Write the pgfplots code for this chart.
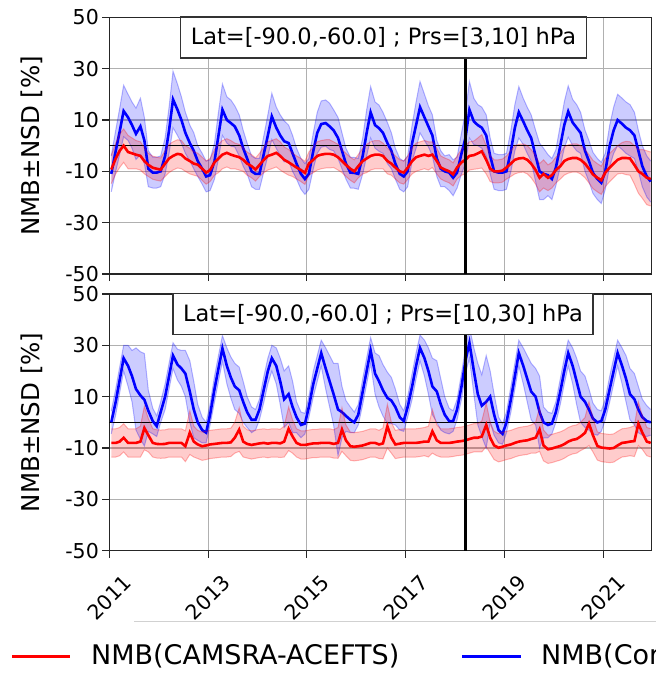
\documentclass[border=0pt]{standalone}
\usepackage{pgfplots}
\pgfplotsset{compat=1.18}
\usepgfplotslibrary{fillbetween}
\usepackage{pgfplotstable}
\usepackage{fontspec}
\setmainfont{DejaVu Sans}
\definecolor{gridgray}{HTML}{B0B0B0}
\definecolor{mplblue}{RGB}{0,0,255}
\definecolor{mplred}{RGB}{255,0,0}

% t = time (year), tb/tbs = top blue NMB/NSD, tr/trs = top red, bb/bbs = bottom blue, br/brs = bottom red
\pgfplotstableread{
t tb tbs tr trs bb bbs br brs
2011.04 -11 7 -9.3 5.5 0 4.5 -8 5.5
2011.13 -2 8 -5 6 8 5 -8 5.5
2011.21 5.5 9 -2 6.5 16.5 5 -7.5 5.5
2011.29 13.5 10 0 6.5 25 5 -6 5.5
2011.38 11 9 -2.5 6.5 22 8 -8 5.5
2011.46 8 9 -3 6 18 10 -8 5.5
2011.54 4.6 10 -3.5 5.5 13 16 -8 5.5
2011.63 7.5 11 -4 5.5 10.5 17 -7.5 6
2011.71 2 9 -6 5 8.8 18 -2.2 8.5
2011.79 -9 7 -7.5 4.5 4.5 8 -5 6.5
2011.88 -10.5 6 -8.6 4.5 0.5 5 -8 5.5
2011.96 -10.5 6 -9 4.5 -1.5 4 -8.4 5.5
2012.04 -10 6 -9.3 4.5 4 4 -8.5 5.5
2012.13 -4 7 -7 5 10 5 -8.4 5.5
2012.21 6 9 -5 5.5 18 5 -8 5.5
2012.29 18 11 -4 5.5 26 5 -8 5.5
2012.38 14 10 -3.2 5.5 22.5 6 -8 5.5
2012.46 10 9 -3.5 5.5 21 7 -8 5.5
2012.54 5 8 -5 5 19 9 -9.3 6
2012.63 1 7 -6 5 12 12 -4 8.5
2012.71 -2 7 -7 4.5 5 11 -7.5 6
2012.79 -6 6 -7.4 4.5 0 7 -8.6 5.5
2012.88 -9 6 -9 4.5 -3 5 -9.3 5.5
2012.96 -12 6 -10.5 4.5 -4 4 -9 5.5
2013.04 -11.5 6 -9.5 4.5 3 4 -8.6 5.5
2013.13 -6 7 -6.5 5 13 5 -8.4 5.5
2013.21 4 9 -5 5.5 21 5 -8.2 5.5
2013.29 14 10 -3.5 5.5 28.8 5 -8 5.5
2013.38 10 9 -2.8 5.5 22 7 -8 5.5
2013.46 8.8 9 -3.5 5.5 17.5 8 -7.8 5.5
2013.54 7.5 8 -4 5 14 9 -6 6
2013.63 4 8 -4.5 5 12.5 9 -2.8 8.5
2013.71 -1 7 -5.5 4.5 8 8 -7.5 6
2013.79 -5 6 -7 4.5 4 6 -8.4 5.5
2013.88 -10 6 -8 4.5 1 5 -8.8 5.5
2013.96 -11 6 -9.3 4.5 1 4 -8.5 5.5
2014.04 -11 6 -7.5 4.5 5 4 -8.2 5.5
2014.13 -3 7 -5.5 5 13 5 -8 5.5
2014.21 4 8 -4 5.5 20 5 -8.3 5.5
2014.29 11.4 9 -3.5 5.5 25 5 -8 5.5
2014.38 7 8 -2.8 5.5 22 7 -8 5.5
2014.46 4 8 -4 5.5 16 9 -8.2 5.5
2014.54 1.7 8 -5.5 5 9 11 -7.5 6
2014.63 1 7 -6.5 5 11 11 -2.5 8.5
2014.71 -3 7 -7.5 4.5 6 10 -5.5 6.5
2014.79 -7 6 -8.5 4.5 2 6 -8 5.5
2014.88 -11 6 -9.5 4.5 -1 5 -8.8 5.5
2014.96 -13 6 -10.6 4.5 -0.5 4 -8.8 5.5
2015.04 -11 6 -7 4.5 6 4 -8.5 5.5
2015.13 -2 7 -5.5 5 15 5 -8.2 5.5
2015.21 5 8 -4 5.5 21 5 -8.2 5.5
2015.29 8.4 9 -3.5 5.5 27 5 -8 5.5
2015.38 8.8 9 -3.2 5.5 21 8 -8 5.5
2015.46 7.5 9 -3.2 5.5 16 10 -8 5.5
2015.54 6 8 -3.5 5 11 12 -8.4 5.5
2015.63 3 8 -4.5 5 5 18 -8 6
2015.71 -2 7 -6 4.5 4 10 -2.8 8.5
2015.79 -7 6 -7.5 4.5 2.5 6 -7 6
2015.88 -10.5 6 -9 4.5 1 5 -9.3 5.5
2015.96 -10.6 6 -10 4.5 0 4 -9.5 5.5
2016.04 -11 6 -8 4.5 3 4 -9.3 5.5
2016.13 -4 7 -6 5 12 5 -9 5.5
2016.21 5 9 -5 5.5 20 5 -8.5 5.5
2016.29 13 10 -4 5.5 28 5 -8 5.5
2016.38 8 9 -3.5 5.5 19 8 -8 5.5
2016.46 6.8 9 -3.5 5.5 16 10 -8.6 5.5
2016.54 5 8 -4 5 12.5 10 -8.2 6
2016.63 1 8 -6 5 9.5 10 -1.5 8.5
2016.71 -2 7 -7 4.5 8.5 9 -6 6
2016.79 -7 6 -8.5 4.5 6 7 -8.6 5.5
2016.88 -11 6 -10 4.5 2 5 -8.3 5.5
2016.96 -12 6 -10.5 4.5 0.5 4 -8 5.5
2017.04 -10 6 -8.6 4.5 6 4 -8 5.5
2017.13 1 7 -6 5 14 5 -8 5.5
2017.21 8 9 -4.5 5.5 22 5 -8 5.5
2017.29 15 10 -4 5.5 29 5 -7.8 5.5
2017.38 11 9 -3.5 5.5 25 7 -7.5 5.5
2017.46 7.5 8 -4 5.5 20 9 -7.5 6
2017.54 4 8 -3.5 5 14 11 -3.5 8.5
2017.63 -5 7 -6 5 12 12 -7 6
2017.71 -9 7 -8.5 4.5 7 10 -8 5.5
2017.79 -10 6 -9.3 4.5 3 7 -8 5.5
2017.88 -10.5 7 -10 4.5 0.5 5 -8 5.5
2017.96 -12.5 7 -11.2 4.5 0.5 4 -7.8 5.5
2018.04 -10.5 6 -8.5 4.5 5 4 -7.5 5.5
2018.13 -3 8 -6.5 5 14 5 -7.3 5.5
2018.21 3 10 -5.5 5.5 24 5 -7 5.5
2018.29 14 11 -4 5.5 31 6 -6.5 5.5
2018.38 9.4 9 -3.7 5.5 20 9 -6 5.5
2018.46 8 8 -3 6 11 12 -6 5.5
2018.54 7 8 -2.2 6.5 6.5 12 -5.5 6
2018.63 4 8 -5.5 5.5 8 18 -1 8.5
2018.71 -4 7 -9 5 10 10 -6 6
2018.79 -10 7 -10 4.5 3 8 -9 5.5
2018.88 -10.5 7 -10 4.5 -3 5 -9.9 5.5
2018.96 -10.5 7 -9.7 4.5 -4.5 4 -9.5 5.5
2019.04 -10 7 -8.5 4.5 0 4 -9 5.5
2019.13 -2 8 -7 5 9 5 -8.6 5.5
2019.21 7 9 -5.5 5.5 18 5 -8 5.5
2019.29 13 10 -5 5.5 27 5 -7.5 5.5
2019.38 9.4 9 -4.8 5.5 22 7 -7.2 5.5
2019.46 6 9 -5.5 5.5 17 9 -7 5.5
2019.54 3 9 -7 5.5 12 11 -6.5 5.5
2019.63 -4 10 -9.5 5.5 10 11 -6 6
2019.71 -10 11 -12.5 5.5 4 14 -2.8 8.5
2019.79 -11 10 -11 5.5 0 6 -9 6
2019.88 -11.5 8 -12.5 5 -1 5 -10.5 5.5
2019.96 -13 8 -11.5 5 -0.5 4 -10.2 5.5
2020.04 -8.6 7 -9.5 5 4 4 -9.7 5.5
2020.13 0 8 -8 5 12 5 -9.2 5.5
2020.21 8 9 -6 5.5 20 5 -8.5 5.5
2020.29 13.3 10 -5.2 5.5 27 5 -7.5 5.5
2020.38 9 9 -4.8 5.5 22 7 -6.8 5.5
2020.46 7 9 -4.8 5.5 16 9 -6.5 5.5
2020.54 5 8 -5.5 5.5 10 10 -5.5 5.5
2020.63 -2 8 -7 5.5 8 10 -4.1 6
2020.71 -6 8 -9 5.5 5 8 -0.5 8.5
2020.79 -10.6 8 -11.2 5.5 1.5 6 -5 6.5
2020.88 -13 8 -12.5 5.5 0 5 -9.2 5.5
2020.96 -14.5 8 -13.5 5.5 0.5 4 -9.8 5.5
2021.04 -10 7 -10.5 5.5 5 4 -10 5.5
2021.13 0 8 -8.5 5.5 13 5 -10.2 5.5
2021.21 6 9 -7 5.5 20 5 -10 5.5
2021.29 10 10 -5.5 5.5 27 5 -9 5.5
2021.38 8.5 10 -4.8 6 22 7 -8 5.5
2021.46 7 10 -4.8 6.5 17 9 -7.8 5.5
2021.54 6 10 -5 6.5 11 10 -7.5 5.5
2021.63 4 9 -7.5 7.5 9 10 -7.3 6
2021.71 -2 8 -10 8.5 5 9 -0.5 8.5
2021.79 -8 8 -11 9.5 2 7 -4 6.5
2021.88 -12 8 -12.5 10.5 0.5 6 -7.5 5.5
2021.96 -14 8 -13 10.5 0 5 -8 5.5
}\datatable

\pgfplotsset{
  panel/.style={
    scale only axis, width=542.4bp, height=256.7bp,
    xmin=2011, xmax=2021.98, ymin=-50, ymax=50,
    xtick={2011,2013,2015,2017,2019,2021},
    ytick={-50,-30,-10,10,30,50},
    grid=major, major grid style={gridgray, line width=1.1bp},
    axis line style={black!85, line width=1.3bp},
    major tick style={black!85, line width=1.2bp},
    tick align=outside, major tick length=7bp,
    xtick pos=bottom, ytick pos=left,
    /pgf/number format/assume math mode=true,
    yticklabel style={font=\fontsize{20.5bp}{24bp}\selectfont},
    ylabel={NMB±NSD [\%]},
    ylabel style={font=\fontsize{24.5bp}{29bp}\selectfont,
      at={(axis description cs:-0.1425,0.5)}, anchor=center},
  },
}

\begin{document}
\begin{tikzpicture}

% ---------- top panel ----------
\begin{axis}[panel, name=top, at={(109.3bp,-17.3bp)}, anchor=north west,
  xticklabels={}]
  \addplot[mplblue, opacity=0.28, line width=1bp, forget plot, name path=tbu] table[x=t, y expr=\thisrow{tb}+\thisrow{tbs}] {\datatable};
  \addplot[mplblue, opacity=0.28, line width=1bp, forget plot, name path=tbl] table[x=t, y expr=\thisrow{tb}-\thisrow{tbs}] {\datatable};
  \addplot[mplblue, fill opacity=0.2, draw=none, forget plot] fill between[of=tbu and tbl];
  \addplot[black, line width=1.1bp, forget plot] coordinates {(2011,0) (2021.98,0)};
  \addplot[mplblue, line width=2.6bp] table[x=t, y=tb] {\datatable};
  \addplot[mplred, opacity=0.28, line width=1bp, forget plot, name path=tru] table[x=t, y expr=\thisrow{tr}+\thisrow{trs}] {\datatable};
  \addplot[mplred, opacity=0.28, line width=1bp, forget plot, name path=trl] table[x=t, y expr=\thisrow{tr}-\thisrow{trs}] {\datatable};
  \addplot[mplred, fill opacity=0.2, draw=none, forget plot] fill between[of=tru and trl];
  \addplot[mplred, line width=2.6bp] table[x=t, y=tr] {\datatable};
  \addplot[black, line width=2.3bp, forget plot] coordinates {(2018.21,-50) (2018.21,50)};
\end{axis}

% ---------- bottom panel ----------
\begin{axis}[panel, name=bot, at={(109.3bp,-294bp)}, anchor=north west,
  xticklabels={2011,2013,2015,2017,2019,2021},
  xticklabel style={font=\fontsize{20.5bp}{24bp}\selectfont, yshift=-40bp, rotate=45, anchor=center}]
  \addplot[mplblue, opacity=0.28, line width=1bp, forget plot, name path=bbu] table[x=t, y expr=\thisrow{bb}+\thisrow{bbs}] {\datatable};
  \addplot[mplblue, opacity=0.28, line width=1bp, forget plot, name path=bbl] table[x=t, y expr=\thisrow{bb}-\thisrow{bbs}] {\datatable};
  \addplot[mplblue, fill opacity=0.2, draw=none, forget plot] fill between[of=bbu and bbl];
  \addplot[black, line width=1.1bp, forget plot] coordinates {(2011,0) (2021.98,0)};
  \addplot[mplblue, line width=2.6bp] table[x=t, y=bb] {\datatable};
  \addplot[mplred, opacity=0.28, line width=1bp, forget plot, name path=bru] table[x=t, y expr=\thisrow{br}+\thisrow{brs}] {\datatable};
  \addplot[mplred, opacity=0.28, line width=1bp, forget plot, name path=brl] table[x=t, y expr=\thisrow{br}-\thisrow{brs}] {\datatable};
  \addplot[mplred, fill opacity=0.2, draw=none, forget plot] fill between[of=bru and brl];
  \addplot[mplred, line width=2.6bp] table[x=t, y=br] {\datatable};
  \addplot[black, line width=2.3bp, forget plot] coordinates {(2018.21,-50) (2018.21,50)};
\end{axis}

% ---------- annotation boxes ----------
\node[draw=black!80, line width=1.3bp, fill=white, inner xsep=10bp, inner ysep=0bp,
  minimum height=41bp, anchor=north, font=\fontsize{22.5bp}{27bp}\selectfont]
  at (383.5bp,-16.3bp) {Lat=[-90.0,-60.0] ; Prs=[3,10] hPa};
\node[draw=black!80, line width=1.3bp, fill=white, inner xsep=10bp, inner ysep=0bp,
  minimum height=41bp, anchor=north, font=\fontsize{22.5bp}{27bp}\selectfont]
  at (383bp,-293bp) {Lat=[-90.0,-60.0] ; Prs=[10,30] hPa};

% ---------- legend ----------
\draw[black!18, line width=1bp] (134bp,-621bp) -- (656bp,-621bp);
\draw[mplred, line width=3.5bp] (12bp,-656.5bp) -- (70bp,-656.5bp);
\node[anchor=west, inner sep=0pt, font=\fontsize{27bp}{32bp}\selectfont] at (91bp,-656bp) {NMB(CAMSRA-ACEFTS)};
\draw[mplblue, line width=3.5bp] (462bp,-656.5bp) -- (521bp,-656.5bp);
\begin{scope}
\clip (530bp,-630bp) rectangle (656bp,-674bp);
\node[anchor=west, inner sep=0pt, font=\fontsize{27bp}{32bp}\selectfont] at (541bp,-656bp) {NMB(Cor};
\end{scope}

\pgfresetboundingbox
\useasboundingbox (0,0) rectangle (656bp,-674bp);
\end{tikzpicture}
\end{document}
